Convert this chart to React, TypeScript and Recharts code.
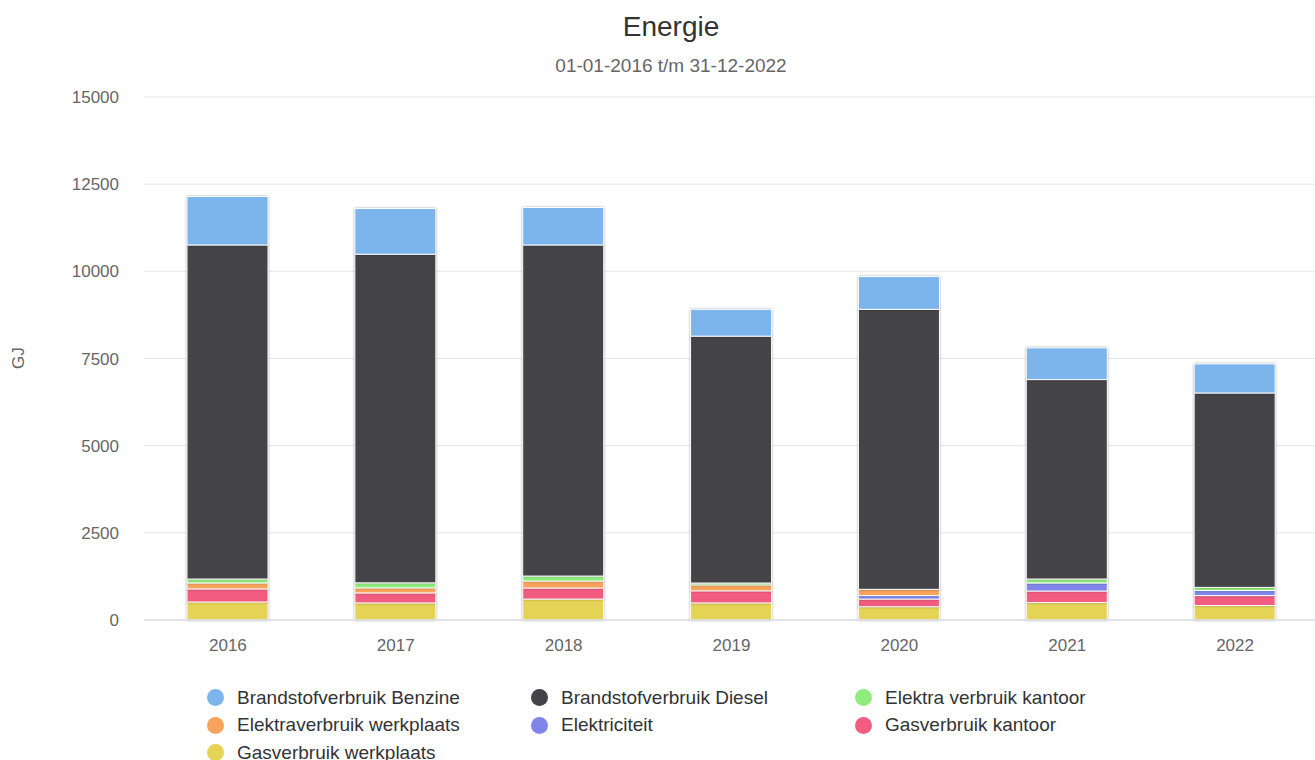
import React from 'react';
import { BarChart, Bar, XAxis, YAxis, CartesianGrid } from 'recharts';

const years = ['2016', '2017', '2018', '2019', '2020', '2021', '2022'];
const benzine = [1390, 1310, 1075, 770, 940, 910, 835];
const diesel = [9580, 9425, 9495, 7080, 8030, 5720, 5575];
const elektraKantoor = [115, 145, 145, 55, 0, 115, 90];
const elektraWerkplaats = [170, 145, 200, 170, 180, 0, 0];
const elektriciteit = [0, 0, 0, 0, 100, 230, 145];
const gasKantoor = [375, 285, 315, 345, 220, 330, 285];
const gasWerkplaats = [515, 490, 600, 490, 380, 500, 415];
const yTicks = [0, 2500, 5000, 7500, 10000, 12500, 15000];

const series = [
  { key: 'benzine', name: 'Brandstofverbruik Benzine', color: '#7cb5ec', values: benzine },
  { key: 'diesel', name: 'Brandstofverbruik Diesel', color: '#434348', values: diesel },
  { key: 'elektraKantoor', name: 'Elektra verbruik kantoor', color: '#90ed7d', values: elektraKantoor },
  { key: 'elektraWerkplaats', name: 'Elektraverbruik werkplaats', color: '#f7a35c', values: elektraWerkplaats },
  { key: 'elektriciteit', name: 'Elektriciteit', color: '#8085e9', values: elektriciteit },
  { key: 'gasKantoor', name: 'Gasverbruik kantoor', color: '#f15c80', values: gasKantoor },
  { key: 'gasWerkplaats', name: 'Gasverbruik werkplaats', color: '#e4d354', values: gasWerkplaats },
];

const data = years.map((year, i) => {
  const row: Record<string, string | number> = { year };
  series.forEach((s) => {
    row[s.key] = s.values[i];
  });
  return row;
});

const FONT = '"Liberation Sans", Arial, Helvetica, sans-serif';

export default function App() {
  const stackOrder = [...series].reverse();
  return (
    <div style={{ position: 'absolute', left: 0, top: 0, width: 1315, height: 760, background: '#fff', fontFamily: FONT, overflow: 'hidden' }}>
      <svg width={1315} height={90} style={{ position: 'absolute', left: 0, top: 0 }}>
        <text x={671} y={36} textAnchor="middle" fontSize={28} fill="#333333" fontFamily={FONT}>Energie</text>
        <text x={671} y={72} textAnchor="middle" fontSize={19} fill="#666666" fontFamily={FONT}>01-01-2016 t/m 31-12-2022</text>
      </svg>
      <div style={{ position: 'absolute', left: 0, top: 0 }}>
        <BarChart width={1319} height={760} data={data} margin={{ top: 97, right: 0, bottom: 110, left: 0 }} barSize={81}>
          <CartesianGrid vertical={false} stroke="#e6e6e6" />
          <XAxis
            dataKey="year"
            interval={0}
            axisLine={{ stroke: '#ccd6eb' }}
            tickLine={false}
            tickSize={0}
            tickMargin={19}
            height={30}
            tick={{ fill: '#666666', fontSize: 17, fontFamily: FONT }}
          />
          <YAxis
            domain={[0, 15000]}
            ticks={yTicks}
            interval={0}
            axisLine={false}
            tickLine={false}
            tickSize={0}
            tickMargin={25}
            width={144}
            tick={{ fill: '#666666', fontSize: 17, fontFamily: FONT }}
            label={{
              content: () => (
                <text x={18} y={358} transform="rotate(-90, 18, 358)" textAnchor="middle" dominantBaseline="central" fontSize={17} fill="#666666" fontFamily={FONT}>GJ</text>
              ),
            }}
          />
          {stackOrder.map((s) => (
            <Bar
              key={s.key}
              dataKey={s.key}
              name={s.name}
              stackId="a"
              fill={s.color}
              stroke="#ffffff"
              strokeWidth={1}
              isAnimationActive={false}
              style={{ filter: 'drop-shadow(0px 0px 1px rgba(0,0,0,0.35))' }}
            />
          ))}
        </BarChart>
      </div>
      <div style={{ position: 'absolute', left: 207, top: 684, display: 'grid', gridTemplateColumns: '324px 324px 324px', rowGap: 0 }}>
        {series.map((s) => (
          <div key={s.key} style={{ display: 'flex', alignItems: 'center', height: 27.5, whiteSpace: 'nowrap' }}>
            <span style={{ display: 'inline-block', width: 17, height: 17, borderRadius: '50%', background: s.color, marginRight: 13 }} />
            <span style={{ fontSize: 19, color: '#333333', fontFamily: FONT }}>{s.name}</span>
          </div>
        ))}
      </div>
    </div>
  );
}
